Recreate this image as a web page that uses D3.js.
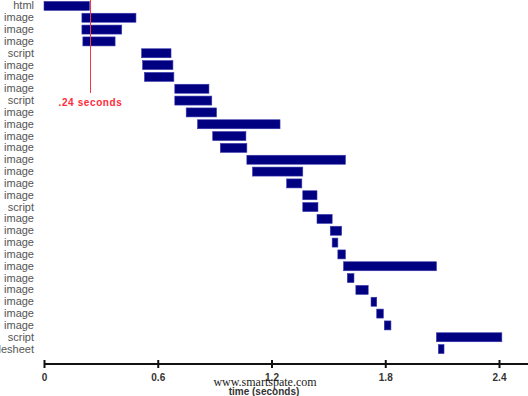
<!DOCTYPE html>
<html>
<head>
<meta charset="utf-8">
<script src="https://cdn.jsdelivr.net/npm/d3@7"></script>
<style>
  body { margin: 0; background: #fff; }
  svg { display: block; }
</style>
</head>
<body>
<div id="chart"></div>
<script>
// resource types, one per row of the waterfall
const labels = ["html", "image", "image", "image", "script", "image", "image", "image", "script",
  "image", "image", "image", "image", "image", "image", "image", "image", "script",
  "image", "image", "image", "image", "image", "image", "image", "image", "image", "image",
  "script", "stylesheet"];

// start and end of each request in seconds
const starts = [0, 0.20, 0.20, 0.205, 0.515, 0.52, 0.53, 0.69, 0.69,
  0.75, 0.81, 0.89, 0.93, 1.07, 1.10, 1.28, 1.365, 1.365,
  1.44, 1.51, 1.52, 1.55, 1.58, 1.60, 1.645, 1.725, 1.755, 1.795,
  2.07, 2.08];
const ends = [0.24, 0.485, 0.41, 0.375, 0.67, 0.68, 0.685, 0.87, 0.885,
  0.91, 1.245, 1.065, 1.07, 1.59, 1.365, 1.36, 1.44, 1.445,
  1.52, 1.57, 1.55, 1.59, 2.07, 1.635, 1.71, 1.755, 1.79, 1.83,
  2.415, 2.11];

const timeTicks = [0, 0.6, 1.2, 1.8, 2.4];
const marker = 0.24;

const width = 528, height = 396;
const margin = {top: 0, left: 44, right: 29, bottom: 41};

const svg = d3.select("#chart").append("svg")
  .attr("width", width)
  .attr("height", height);

const x = d3.scaleLinear().domain([0, 2.4]).range([margin.left, width - margin.right]);
const y = d3.scaleBand()
  .domain(d3.range(labels.length))
  .range([0, 355])
  .paddingInner(0.24)
  .paddingOuter(0.12);

// row labels
const yAxis = g => g
  .attr("transform", `translate(${margin.left - 10},0)`)
  .call(d3.axisLeft(y).tickSize(0).tickPadding(0).tickFormat(i => labels[i]))
  .call(g => g.select(".domain").remove())
  .call(g => g.selectAll("text")
    .attr("font-family", "Liberation Sans, Arial, sans-serif")
    .attr("font-size", 11)
    .attr("fill", "#555"));

svg.append("g").call(yAxis);

// request bars
svg.append("g")
  .selectAll("rect")
  .data(labels)
  .join("rect")
    .attr("x", (d, i) => x(starts[i]))
    .attr("y", (d, i) => y(i))
    .attr("width", (d, i) => x(ends[i]) - x(starts[i]))
    .attr("height", y.bandwidth())
    .attr("fill", "#000080")
    .attr("stroke", "#3a3ab0")
    .attr("stroke-width", 0.6);

// .24 s marker
const mx = Math.round(x(marker)) + 0.5;
svg.append("line")
  .attr("x1", mx).attr("x2", mx)
  .attr("y1", 0).attr("y2", 93)
  .style("stroke", "#ff3348")
  .style("stroke-width", 1);

svg.append("text")
  .attr("x", mx)
  .attr("y", 106)
  .attr("text-anchor", "middle")
  .attr("font-family", "Liberation Sans, Arial, sans-serif")
  .attr("font-size", 10)
  .attr("font-weight", "bold")
  .attr("letter-spacing", 0.6)
  .attr("fill", "#ff2a3a")
  .text(".24 seconds");

// time axis
const axisY = 364;
svg.append("line")
  .attr("x1", x(0)).attr("x2", width)
  .attr("y1", axisY).attr("y2", axisY)
  .attr("stroke", "#111")
  .attr("stroke-width", 2);

const xAxis = g => g
  .attr("transform", `translate(0,${axisY})`)
  .call(d3.axisBottom(x).tickValues(timeTicks).tickSize(4).tickPadding(6).tickFormat(d => d))
  .call(g => g.select(".domain").remove())
  .call(g => g.selectAll(".tick line").attr("y1", -4).attr("stroke", "#111").attr("stroke-width", 2))
  .call(g => g.selectAll(".tick text")
    .attr("font-family", "Liberation Sans, Arial, sans-serif")
    .attr("font-size", 10)
    .attr("font-weight", "bold")
    .attr("fill", "#333"));

svg.append("g").call(xAxis);

svg.append("text")
  .attr("x", 265)
  .attr("y", 386)
  .attr("text-anchor", "middle")
  .attr("font-family", "Liberation Serif, serif")
  .attr("font-size", 12)
  .attr("fill", "#222")
  .text("www.smartspate.com");

svg.append("text")
  .attr("x", 264)
  .attr("y", 395)
  .attr("text-anchor", "middle")
  .attr("font-family", "Liberation Sans, Arial, sans-serif")
  .attr("font-size", 10)
  .attr("font-weight", "bold")
  .attr("fill", "#333")
  .text("time (seconds)");
</script>
</body>
</html>
